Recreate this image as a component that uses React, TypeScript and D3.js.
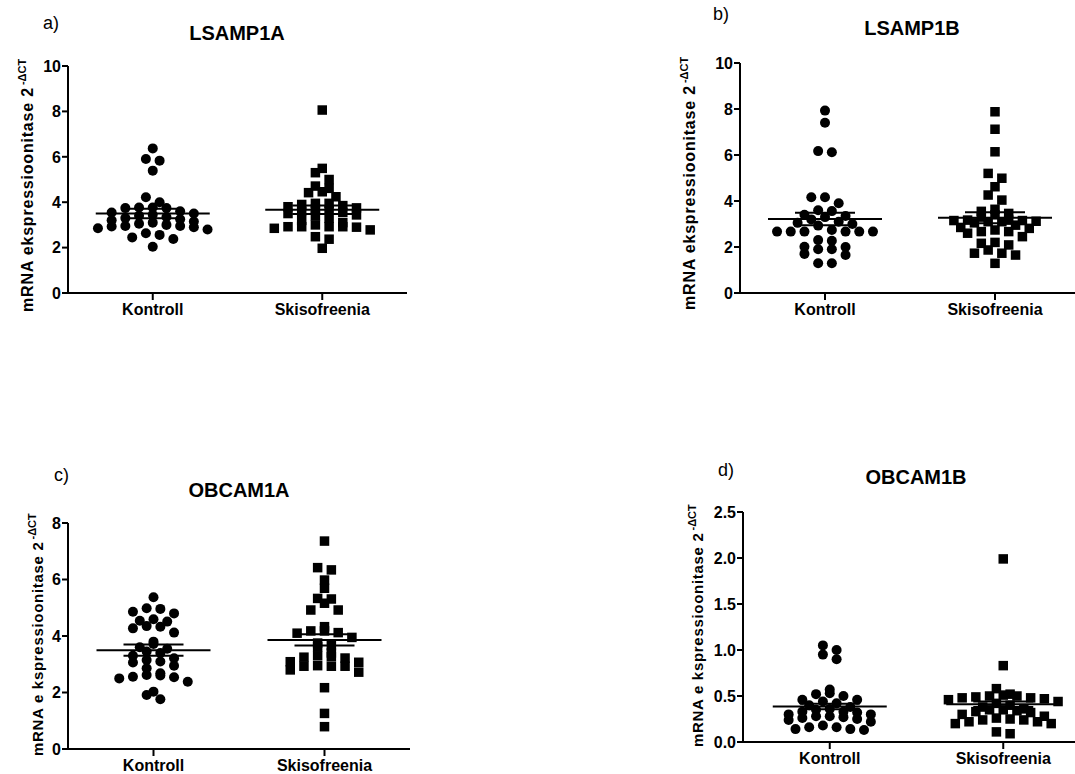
import React from 'react';
import * as d3 from 'd3';

const groups = ['Kontroll', 'Skisofreenia'];

// LSAMP1A
const lsamp1aKontroll = [6.37, 5.9, 5.83, 5.39, 4.22, 4.0, 3.77, 3.77, 3.74, 3.74, 3.6, 3.55, 3.5, 3.45, 3.4, 3.35, 3.3, 3.25, 3.2, 3.15, 3.1, 3.05, 3.0, 2.95, 2.95, 2.93, 2.9, 2.85, 2.8, 2.63, 2.56, 2.45, 2.38, 2.04];
const lsamp1aSkiso = [8.06, 5.49, 5.3, 5.0, 4.71, 4.61, 4.46, 4.42, 4.24, 3.95, 3.95, 3.9, 3.85, 3.8, 3.75, 3.7, 3.65, 3.6, 3.55, 3.5, 3.44, 3.4, 3.3, 3.2, 3.1, 3.0, 2.92, 2.92, 2.92, 2.92, 2.9, 2.85, 2.78, 2.48, 2.37, 1.97];
const lsamp1aMean = [3.5, 3.67];
const lsamp1aSem = [0.21, 0.19];

// LSAMP1B
const lsamp1bKontroll = [7.93, 7.4, 6.17, 6.12, 4.16, 4.16, 3.9, 3.6, 3.56, 3.4, 3.35, 3.3, 3.2, 3.1, 3.05, 3.0, 2.93, 2.74, 2.67, 2.67, 2.67, 2.67, 2.67, 2.67, 2.3, 2.27, 2.01, 2.0, 1.9, 1.9, 1.7, 1.65, 1.29, 1.29];
const lsamp1bSkiso = [7.88, 7.12, 6.14, 5.2, 4.99, 4.62, 4.26, 4.04, 3.64, 3.55, 3.46, 3.4, 3.3, 3.17, 3.17, 3.15, 3.15, 3.12, 3.1, 3.1, 3.05, 2.95, 2.85, 2.81, 2.74, 2.67, 2.67, 2.6, 2.45, 2.2, 2.16, 2.09, 1.87, 1.73, 1.73, 1.65, 1.29];
const lsamp1bMean = [3.22, 3.27];
const lsamp1bSem = [0.27, 0.24];

// OBCAM1A
const obcam1aKontroll = [5.37, 4.98, 4.96, 4.86, 4.8, 4.59, 4.54, 4.51, 4.35, 4.33, 4.27, 4.12, 3.8, 3.72, 3.6, 3.55, 3.45, 3.4, 3.3, 3.21, 3.15, 3.1, 3.06, 2.95, 2.86, 2.68, 2.62, 2.6, 2.56, 2.54, 2.5, 2.38, 2.03, 1.91, 1.76];
const obcam1aSkiso = [7.36, 6.42, 6.34, 5.98, 5.69, 5.33, 5.31, 5.16, 4.92, 4.92, 4.33, 4.18, 4.18, 4.12, 4.1, 3.95, 3.75, 3.66, 3.62, 3.4, 3.3, 3.27, 3.25, 3.22, 3.09, 3.07, 2.95, 2.93, 2.93, 2.93, 2.8, 2.72, 2.17, 1.26, 0.79];
const obcam1aMean = [3.5, 3.86];
const obcam1aSem = [0.2, 0.2];

// OBCAM1B
const obcam1bKontroll = [1.05, 1.0, 0.95, 0.9, 0.57, 0.53, 0.52, 0.5, 0.46, 0.46, 0.44, 0.42, 0.4, 0.38, 0.36, 0.35, 0.33, 0.33, 0.32, 0.3, 0.3, 0.28, 0.28, 0.27, 0.26, 0.25, 0.24, 0.22, 0.18, 0.16, 0.16, 0.14, 0.14, 0.13];
const obcam1bSkiso = [1.99, 0.83, 0.58, 0.52, 0.51, 0.5, 0.5, 0.49, 0.48, 0.48, 0.47, 0.46, 0.44, 0.42, 0.4, 0.38, 0.36, 0.35, 0.35, 0.34, 0.33, 0.32, 0.3, 0.28, 0.26, 0.25, 0.24, 0.24, 0.22, 0.22, 0.2, 0.2, 0.11, 0.09];
const obcam1bMean = [0.385, 0.41];
const obcam1bSem = [0.03, 0.03];

const ticks10 = [0, 2, 4, 6, 8, 10];
const ticks8 = [0, 2, 4, 6, 8];
const ticks25 = [0, 0.5, 1.0, 1.5, 2.0, 2.5];

const FONT = '"Liberation Sans", Arial, Helvetica, sans-serif';
const SPACING = 13.7;
const BIN = 7;

// GraphPad-like scatter: bin points in rows, spread each row symmetrically
function swarm(values: number[], y: (v: number) => number) {
  const pts = values.map((v) => ({ v, py: y(v) })).sort((a, b) => b.py - a.py);
  const rows: { v: number; py: number }[][] = [];
  let cur: { v: number; py: number }[] | null = null;
  for (const p of pts) {
    if (!cur || cur[0].py - p.py >= BIN) {
      cur = [p];
      rows.push(cur);
    } else cur.push(p);
  }
  const out: { v: number; k: number }[] = [];
  rows.forEach((row) => {
    const n = row.length;
    row.sort((a, b) => b.v - a.v);
    row.forEach((p, i) => {
      let k;
      if (n % 2) k = i === 0 ? 0 : (i % 2 ? -1 : 1) * Math.ceil(i / 2);
      else k = (i % 2 ? 1 : -1) * (Math.floor(i / 2) + 0.5);
      out.push({ v: p.v, k });
    });
  });
  return out;
}

function Panel({ p }: { p: any }) {
  const y = d3.scaleLinear().domain([0, p.max]).range([p.y0, p.y1]);
  const x = d3.scalePoint().domain(groups).range([p.x0, p.x1]).padding(0.5);
  const fmt = p.max < 5 ? d3.format('.1f') : d3.format('d');
  const sets = [p.kontroll, p.skiso];

  return (
    <g>
      <text x={p.letter[0]} y={p.letter[1]} fontSize={18} fontFamily={FONT}>{p.letterText}</text>
      <text x={p.title[0]} y={p.title[1]} fontSize={20} fontWeight="bold" textAnchor="middle" fontFamily={FONT}>{p.titleText}</text>
      <text
        transform={`translate(${p.ylab[0]},${p.ylab[1]}) rotate(-90)`}
        fontSize={p.ylabSize}
        fontWeight="bold"
        letterSpacing={p.ylabSpacing}
        fontFamily={FONT}
      >
        {p.ylabText}
        <tspan dy={-7} dx={2} fontSize={11} letterSpacing={0}>-ΔCT</tspan>
      </text>

      {/* points */}
      {sets.map((vals: number[], gi: number) =>
        swarm(vals, y).map((d, i) => {
          const cx = (x(groups[gi]) as number) + d.k * SPACING;
          const cy = y(d.v);
          return gi === 0 ? (
            <circle key={`${gi}-${i}`} cx={cx} cy={cy} r={5} fill="#000" />
          ) : (
            <rect key={`${gi}-${i}`} x={cx - 4.75} y={cy - 4.75} width={9.5} height={9.5} fill="#000" />
          );
        })
      )}

      {/* mean ± SEM */}
      {groups.map((g, gi) => {
        const cx = x(g) as number;
        const m = p.mean[gi];
        const s = p.sem[gi];
        return (
          <g key={g} stroke="#000" strokeWidth={2}>
            <line x1={cx - 57} x2={cx + 57} y1={y(m)} y2={y(m)} />
            <line x1={cx - 30} x2={cx + 30} y1={y(m + s)} y2={y(m + s)} />
            <line x1={cx - 30} x2={cx + 30} y1={y(m - s)} y2={y(m - s)} />
          </g>
        );
      })}

      {/* y axis */}
      <line x1={p.x0} x2={p.x0} y1={y(0) + 1} y2={y(p.max)} stroke="#000" strokeWidth={2} />
      {p.ticks.map((t: number) => (
        <g key={t}>
          <line x1={p.x0 - 6} x2={p.x0} y1={y(t)} y2={y(t)} stroke="#000" strokeWidth={2} />
          <text x={p.x0 - 7} y={y(t)} dy="0.36em" textAnchor="end" fontSize={16} fontWeight="bold" fontFamily={FONT}>
            {fmt(t)}
          </text>
        </g>
      ))}

      {/* x axis */}
      <line x1={p.x0 - 1} x2={p.x1} y1={y(0)} y2={y(0)} stroke="#000" strokeWidth={2} />
      {groups.map((g) => (
        <g key={g}>
          <line x1={x(g)} x2={x(g)} y1={y(0)} y2={y(0) + 7} stroke="#000" strokeWidth={2} />
          <text x={x(g)} y={y(0) + 22} textAnchor="middle" fontSize={16} fontWeight="bold" fontFamily={FONT}>
            {g}
          </text>
        </g>
      ))}
    </g>
  );
}

const panels = [
  {
    letterText: 'a)', letter: [43, 29], titleText: 'LSAMP1A', title: [237, 40],
    ylabText: 'mRNA ekspressioonitase 2', ylab: [33, 312], ylabSize: 16, ylabSpacing: 0.8,
    x0: 68, x1: 407, y0: 293, y1: 66, max: 10, ticks: ticks10,
    kontroll: lsamp1aKontroll, skiso: lsamp1aSkiso, mean: lsamp1aMean, sem: lsamp1aSem,
  },
  {
    letterText: 'b)', letter: [713, 20], titleText: 'LSAMP1B', title: [912, 35],
    ylabText: 'mRNA ekspressioonitase 2', ylab: [695, 310], ylabSize: 16, ylabSpacing: 0.8,
    x0: 740, x1: 1080, y0: 293, y1: 63, max: 10, ticks: ticks10,
    kontroll: lsamp1bKontroll, skiso: lsamp1bSkiso, mean: lsamp1bMean, sem: lsamp1bSem,
  },
  {
    letterText: 'c)', letter: [54, 481], titleText: 'OBCAM1A', title: [239, 497],
    ylabText: 'mRNA e kspressioonitase 2', ylab: [43, 756], ylabSize: 15, ylabSpacing: 0.7,
    x0: 68, x1: 410, y0: 749, y1: 523, max: 8, ticks: ticks8,
    kontroll: obcam1aKontroll, skiso: obcam1aSkiso, mean: obcam1aMean, sem: obcam1aSem,
  },
  {
    letterText: 'd)', letter: [718, 476], titleText: 'OBCAM1B', title: [916, 484],
    ylabText: 'mRNA e kspressioonitase 2', ylab: [703, 747], ylabSize: 15, ylabSpacing: 0.7,
    x0: 743, x1: 1090, y0: 742, y1: 512, max: 2.5, ticks: ticks25,
    kontroll: obcam1bKontroll, skiso: obcam1bSkiso, mean: obcam1bMean, sem: obcam1bSem,
  },
];

export default function App() {
  return (
    <svg
      width={1075}
      height={774}
      style={{ position: 'absolute', left: 0, top: 0, background: '#fff' }}
    >
      <rect width={1075} height={774} fill="#fff" />
      {panels.map((p) => (
        <Panel key={p.titleText} p={p} />
      ))}
    </svg>
  );
}
